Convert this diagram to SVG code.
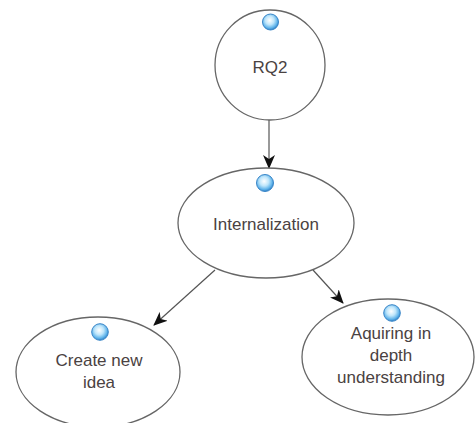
<svg xmlns="http://www.w3.org/2000/svg" width="476" height="423" viewBox="0 0 476 423">
<defs>
<radialGradient id="ball" cx="0.45" cy="0.4" r="0.6">
<stop offset="0" stop-color="#ffffff"/>
<stop offset="0.45" stop-color="#bfe6fb"/>
<stop offset="0.8" stop-color="#5fb3ea"/>
<stop offset="1" stop-color="#2f7fc4"/>
</radialGradient>
<marker id="arr" viewBox="0 0 14 12" refX="13" refY="6" markerWidth="14" markerHeight="12" markerUnits="userSpaceOnUse" orient="auto">
<path d="M0,0 L14,6 L0,12 L4,6 Z" fill="#111"/>
</marker>
<style>
.node{fill:#fff;stroke:#666;stroke-width:1.3}
.lbl{font-family:"Liberation Sans",Arial,sans-serif;font-size:17px;fill:#4a4242;text-anchor:middle}
.ball{fill:url(#ball);stroke:#3a86c8;stroke-width:1}
.edge{stroke:#555;stroke-width:1.2;fill:none;marker-end:url(#arr)}
</style>
</defs>
<rect width="476" height="423" fill="#fff"/>
<g id="connectors">
<line class="edge" x1="269" y1="120" x2="269" y2="168"/>
<line class="edge" x1="215" y1="270" x2="154" y2="325"/>
<line class="edge" x1="313" y1="270" x2="343" y2="303"/>
</g>
<g id="rq2">
<circle class="node" cx="270" cy="65" r="55"/>
<circle class="ball" cx="270.5" cy="22" r="8"/>
<text class="lbl" x="270" y="73">RQ2</text>
</g>
<g id="internalization">
<ellipse class="node" cx="266" cy="223" rx="88" ry="55"/>
<circle class="ball" cx="265" cy="183" r="8.5"/>
<text class="lbl" x="266" y="230">Internalization</text>
</g>
<g id="create">
<ellipse class="node" cx="98" cy="372" rx="82" ry="55"/>
<circle class="ball" cx="100" cy="332" r="8.3"/>
<text class="lbl" x="99" y="366">Create new</text>
<text class="lbl" x="99" y="388">idea</text>
</g>
<g id="aquiring">
<ellipse class="node" cx="388" cy="357" rx="86" ry="58"/>
<circle class="ball" cx="392" cy="313" r="8.3"/>
<text class="lbl" x="391" y="339">Aquiring in</text>
<text class="lbl" x="391" y="361">depth</text>
<text class="lbl" x="391" y="383">understanding</text>
</g>
</svg>
